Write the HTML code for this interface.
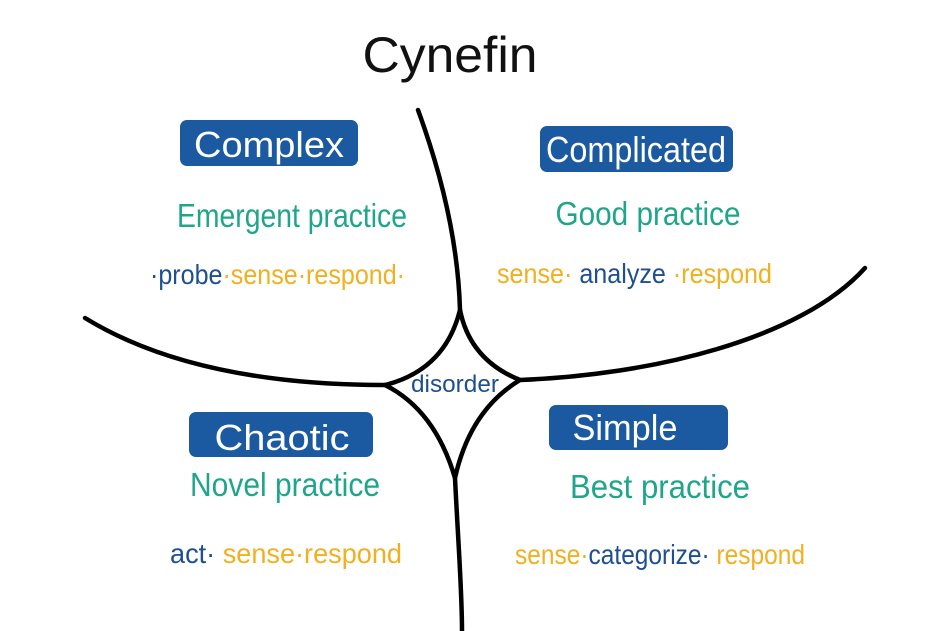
<!DOCTYPE html>
<html><head><meta charset="utf-8"><style>
html,body{margin:0;padding:0;background:#fff;}
svg{display:block;}
text{font-family:"Liberation Sans Narrow","Liberation Sans",sans-serif;}
</style></head><body>
<svg width="938" height="631" viewBox="0 0 938 631" xmlns="http://www.w3.org/2000/svg">
<rect width="938" height="631" fill="#fff"/>
<text x="450" y="72" font-size="50" text-anchor="middle" fill="#111" textLength="175" lengthAdjust="spacingAndGlyphs">Cynefin</text>
<g fill="none" stroke="#000" stroke-width="4.5" stroke-linecap="round">
<path d="M418,110 C440,170 458,240 460,310"/>
<path d="M85,318 C170,370 280,385 385,385"/>
<path d="M520,380 C650,375 800,340 865,268"/>
<path d="M455,478 C458,540 462,590 462,631"/>
<path d="M460,310 Q470,360 520,380 Q470,410 455,478 Q435,410 385,385 Q445,370 460,310 Z"/>
</g>
<g fill="#1b5aa0">
<rect x="180" y="120" width="178" height="46" rx="7"/>
<rect x="540" y="126" width="193" height="46" rx="7"/>
<rect x="189" y="412" width="184" height="45" rx="7"/>
<rect x="549" y="405" width="179" height="45" rx="7"/>
</g>
<g fill="#fff" font-size="36" text-anchor="middle">
<text x="269" y="157" textLength="150" lengthAdjust="spacingAndGlyphs">Complex</text>
<text x="636" y="162" textLength="180" lengthAdjust="spacingAndGlyphs">Complicated</text>
<text x="282" y="450" textLength="135" lengthAdjust="spacingAndGlyphs">Chaotic</text>
<text x="625" y="440" textLength="105" lengthAdjust="spacingAndGlyphs">Simple</text>
</g>
<g fill="#1fa68a" font-size="33" text-anchor="middle">
<text x="292" y="227" textLength="230" lengthAdjust="spacingAndGlyphs">Emergent practice</text>
<text x="648" y="225" textLength="185" lengthAdjust="spacingAndGlyphs">Good practice</text>
<text x="285" y="496" textLength="190" lengthAdjust="spacingAndGlyphs">Novel practice</text>
<text x="660" y="498" textLength="180" lengthAdjust="spacingAndGlyphs">Best practice</text>
</g>
<g font-size="28">
<text x="150" y="284" textLength="255" lengthAdjust="spacingAndGlyphs"><tspan fill="#1d4f91">·probe</tspan><tspan fill="#f0b020">·sense·respond·</tspan></text>
<text x="497" y="283" textLength="275" lengthAdjust="spacingAndGlyphs"><tspan fill="#f0b020">sense· </tspan><tspan fill="#1d4f91">analyze </tspan><tspan fill="#f0b020">·respond</tspan></text>
<text x="170" y="563" textLength="232" lengthAdjust="spacingAndGlyphs"><tspan fill="#1d4f91">act· </tspan><tspan fill="#f0b020">sense·respond</tspan></text>
<text x="515" y="564" textLength="290" lengthAdjust="spacingAndGlyphs"><tspan fill="#f0b020">sense·</tspan><tspan fill="#1d4f91">categorize·</tspan><tspan fill="#f0b020"> respond</tspan></text>
</g>
<text x="455" y="392" font-size="24" fill="#1d4f91" text-anchor="middle" textLength="88" lengthAdjust="spacingAndGlyphs">disorder</text>
</svg>
</body></html>
